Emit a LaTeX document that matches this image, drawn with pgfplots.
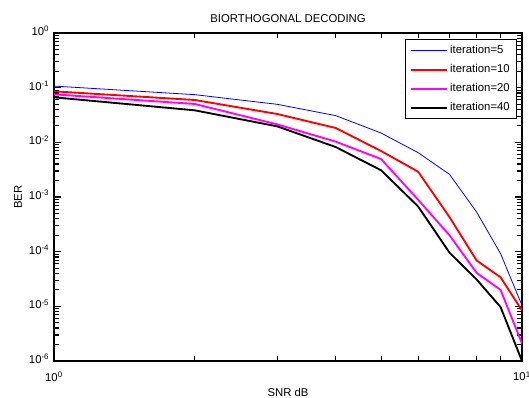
\documentclass[border=0pt]{standalone}
\usepackage{fontspec}
\setmainfont{Liberation Sans}
\usepackage{pgfplots}
\pgfplotsset{compat=1.18}
\definecolor{mblue}{RGB}{0,0,255}
\definecolor{mred}{RGB}{255,0,0}
\definecolor{mmag}{RGB}{255,0,255}
\begin{document}
\begin{tikzpicture}
\path (-40.5pt,-27pt) rectangle (356.25pt,270.75pt);
\begin{loglogaxis}[
  scale only axis,
  width=351pt, height=246pt,
  xmin=1, xmax=10, ymin=1e-6, ymax=1,
  xtick={1,10}, minor xtick={2,3,4,5,6,7,8,9},
  ytick={1e-6,1e-5,1e-4,1e-3,1e-2,1e-1,1},
  xticklabels={{10\textsuperscript{0}},{10\textsuperscript{1}}},
  yticklabels={{10\textsuperscript{-6}},{10\textsuperscript{-5}},{10\textsuperscript{-4}},{10\textsuperscript{-3}},{10\textsuperscript{-2}},{10\textsuperscript{-1}},{10\textsuperscript{0}}},
  major tick length=5pt, minor tick length=3.5pt,
  tick style={line width=0.9pt, draw=black},
  axis background/.style={draw=black, line width=0.8pt},
  tick label style={font=\fontsize{8.5}{10}\selectfont},
  xticklabel style={yshift=-4.5pt, overlay},
  yticklabel style={yshift=1.5pt},
  label style={font=\fontsize{8.5}{10}\selectfont},
  xlabel style={yshift=1.5pt, overlay},
  ylabel style={yshift=-1.5pt},
  title style={font=\fontsize{8.5}{10}\selectfont, yshift=-1.5pt},
  title={BIORTHOGONAL DECODING},
  xlabel={SNR dB}, ylabel={BER},
  legend style={at={(1,1)}, anchor=north east, xshift=-3.75pt, yshift=-4.5pt,
    font=\fontsize{8.5}{10}\selectfont, line width=0.9pt, draw=black,
    row sep=2.6pt, inner xsep=3pt, inner ysep=2.5pt},
  legend cell align=left,
  legend image code/.code={\draw[#1] plot coordinates {(0pt,0pt) (27pt,0pt)};},
]
\addplot[color=mblue, line width=0.6pt] coordinates {
(1,0.107) (2,0.0745) (3,0.0496) (4,0.0308) (5,0.0148) (6,0.00647) (7,0.0026) (8,5.3e-4) (9,9.2e-5) (10,1.04e-5)};
\addlegendentry{iteration=5}
\addplot[color=mred, line width=1.4pt] coordinates {
(1,0.0857) (2,0.0595) (3,0.033) (4,0.0183) (5,0.00694) (6,0.0029) (7,4.3e-4) (8,6.9e-5) (9,3.4e-5) (10,8.4e-6)};
\addlegendentry{iteration=10}
\addplot[color=mmag, line width=1.4pt] coordinates {
(1,0.0755) (2,0.0503) (3,0.0213) (4,0.0103) (5,0.00495) (6,8.9e-4) (7,2.0e-4) (8,4.1e-5) (9,2.0e-5) (10,2.1e-6)};
\addlegendentry{iteration=20}
\addplot[color=black, line width=1.4pt] coordinates {
(1,0.0666) (2,0.0385) (3,0.0196) (4,0.0082) (5,0.00308) (6,6.7e-4) (7,9.6e-5) (8,3.1e-5) (9,9.7e-6) (10,1e-6)};
\addlegendentry{iteration=40}
\end{loglogaxis}
\end{tikzpicture}
\end{document}
